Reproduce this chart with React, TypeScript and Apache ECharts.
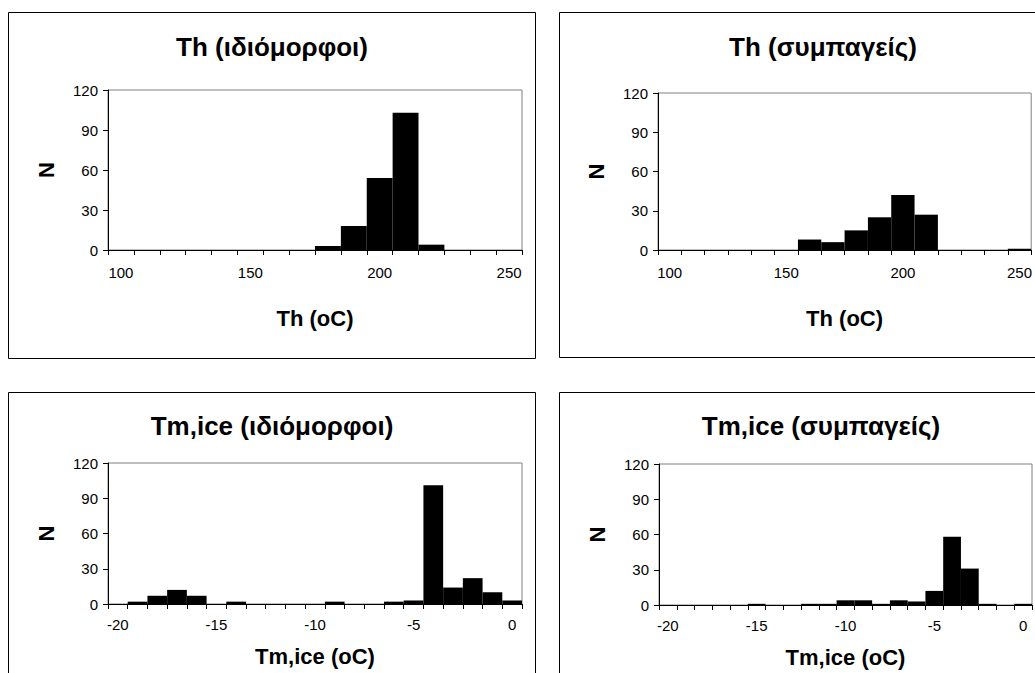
import React, { useEffect, useRef } from "react";
import * as echarts from "echarts";

const thCategories = ["100", "110", "120", "130", "140", "150", "160", "170", "180", "190", "200", "210", "220", "230", "240", "250"];
const thIdiomorphoi = [0, 0, 0, 0, 0, 0, 0, 0, 3, 18, 54, 103, 4, 0, 0, 0];
const thSympageis = [0, 0, 0, 0, 0, 0, 8, 6, 15, 25, 42, 27, 0, 0, 0, 1];

const tmCategories = ["-20", "-19", "-18", "-17", "-16", "-15", "-14", "-13", "-12", "-11", "-10", "-9", "-8", "-7", "-6", "-5", "-4", "-3", "-2", "-1", "0"];
const tmIdiomorphoi = [0, 2, 7, 12, 7, 0, 2, 0, 0, 0, 0, 2, 0, 0, 2, 3, 101, 14, 22, 10, 3];
const tmSympageis = [0, 0, 0, 0, 0, 1, 0, 0, 1, 1, 4, 4, 1, 4, 3, 12, 58, 31, 1, 0, 1];

const yTicks = { min: 0, max: 120, interval: 30 };

const titles = ["Th (ιδιόμορφοι)", "Th (συμπαγείς)", "Tm,ice (ιδιόμορφοι)", "Tm,ice (συμπαγείς)"];
const xNames = ["Th (oC)", "Th (oC)", "Tm,ice (oC)", "Tm,ice (oC)"];

const FONT = "Arial, 'Liberation Sans', sans-serif";

export default function App() {
  const ref = useRef<HTMLDivElement>(null);
  useEffect(() => {
    if (!ref.current) return;
    const chart = echarts.init(ref.current, undefined, { renderer: "svg" });

    const grids = [
      { left: 108, top: 90, width: 414, height: 160 },
      { left: 658, top: 93, width: 374, height: 157 },
      { left: 108, top: 463, width: 414, height: 141 },
      { left: 659, top: 464, width: 373, height: 141 },
    ];
    const cats = [thCategories, thCategories, tmCategories, tmCategories];
    const data = [thIdiomorphoi, thSympageis, tmIdiomorphoi, tmSympageis];
    const nameGaps = [57, 57, 41, 41];
    const labelMargins = [15, 15, 13, 13];

    const option: any = {
      animation: false,
      grid: grids.map((g) => ({
        ...g,
        show: true,
        borderColor: "#808080",
        borderWidth: 1,
        backgroundColor: "transparent",
      })),
      xAxis: grids.map((_, i) => ({
        type: "category",
        gridIndex: i,
        data: cats[i],
        boundaryGap: true,
        axisLine: { show: true, lineStyle: { color: "#000", width: 1 } },
        axisTick: { show: true, interval: 0, length: 5, lineStyle: { color: "#000" } },
        axisLabel: { interval: 4, margin: labelMargins[i], color: "#000", fontSize: 15, fontFamily: FONT },
        splitLine: { show: false },
        name: xNames[i],
        nameLocation: "middle",
        nameGap: nameGaps[i],
        nameTextStyle: { fontSize: 22, fontWeight: "bold", color: "#000", fontFamily: FONT },
      })),
      yAxis: grids.map((_, i) => ({
        type: "value",
        gridIndex: i,
        min: yTicks.min,
        max: yTicks.max,
        interval: yTicks.interval,
        axisLine: { show: true, lineStyle: { color: "#000", width: 1 } },
        axisTick: { show: true, length: 5, lineStyle: { color: "#000" } },
        axisLabel: { margin: 10, color: "#000", fontSize: 15, fontFamily: FONT },
        splitLine: { show: false },
        name: "N",
        nameLocation: "middle",
        nameRotate: 90,
        nameGap: 51,
        nameTextStyle: { fontSize: 22, fontWeight: "bold", color: "#000", fontFamily: FONT },
      })),
      series: data.map((d, i) => ({
        type: "bar",
        xAxisIndex: i,
        yAxisIndex: i,
        data: d,
        barCategoryGap: "0%",
        itemStyle: { color: "#000" },
        silent: true,
      })),
      graphic: {
        elements: [
          { type: "rect", shape: { x: 8.5, y: 12.5, width: 527, height: 346 }, style: { fill: "none", stroke: "#000", lineWidth: 1 } },
          { type: "rect", shape: { x: 559.5, y: 12.5, width: 540, height: 345 }, style: { fill: "none", stroke: "#000", lineWidth: 1 } },
          { type: "rect", shape: { x: 8.5, y: 392.5, width: 527, height: 320 }, style: { fill: "none", stroke: "#000", lineWidth: 1 } },
          { type: "rect", shape: { x: 559.5, y: 392.5, width: 540, height: 320 }, style: { fill: "none", stroke: "#000", lineWidth: 1 } },
          ...[
            [272, 47],
            [823, 47],
            [272, 426],
            [821, 426],
          ].map(([x, y], i) => ({
            type: "text",
            x,
            y,
            style: {
              text: titles[i],
              font: `bold 26px ${FONT}`,
              fill: "#000",
              align: "center",
              verticalAlign: "middle",
              textAlign: "center",
              textVerticalAlign: "middle",
            },
          })),
        ],
      },
    };
    chart.setOption(option);
    return () => chart.dispose();
  }, []);
  return <div ref={ref} style={{ position: "absolute", left: 0, top: 0, width: 1035, height: 673, background: "#fff" }} />;
}
